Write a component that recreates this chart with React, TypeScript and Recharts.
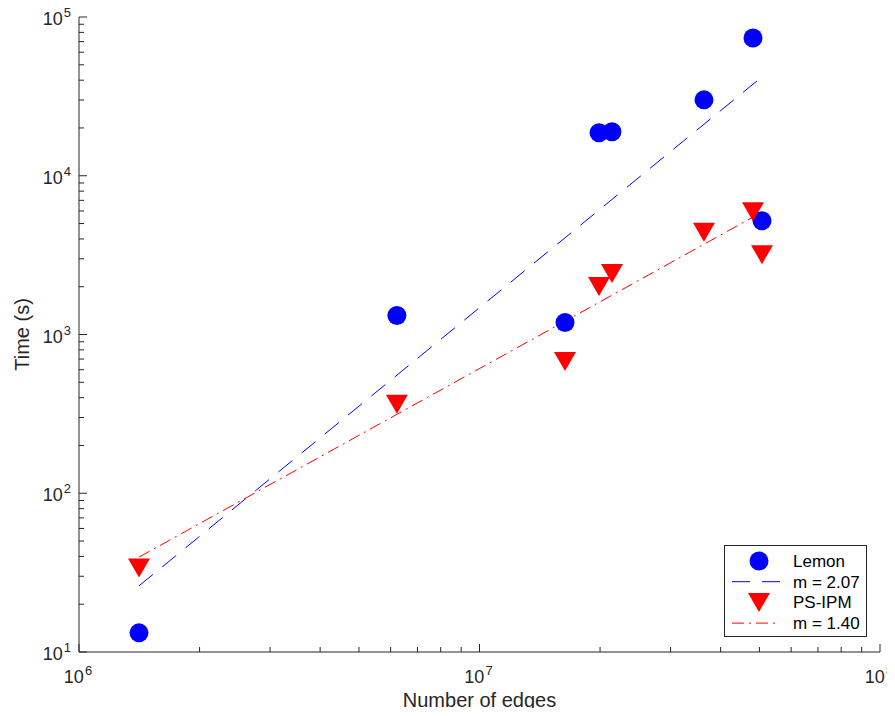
import { ComposedChart, Scatter, Line, XAxis, YAxis, Legend, Label } from 'recharts';

const edges = [1.412e6, 6.22e6, 1.635e7, 1.988e7, 2.142e7, 3.635e7, 4.818e7, 5.074e7];
const lemonTime = [13.2, 1316, 1190, 18650, 18920, 30060, 73800, 5212];
const psipmTime = [33.8, 363, 676, 2004, 2420, 4414, 5940, 3185];

const fitEdges = [1.412e6, 5.074e7];
const lemonFit = [26.1, 41970];
const psipmFit = [39.6, 5900];

const xTicks = [1e6, 2e6, 3e6, 4e6, 5e6, 6e6, 7e6, 8e6, 9e6, 1e7, 2e7, 3e7, 4e7, 5e7, 6e7, 7e7, 8e7, 9e7, 1e8];
const yTicks = [
    10, 20, 30, 40, 50, 60, 70, 80, 90,
    100, 200, 300, 400, 500, 600, 700, 800, 900,
    1000, 2000, 3000, 4000, 5000, 6000, 7000, 8000, 9000,
    10000, 20000, 30000, 40000, 50000, 60000, 70000, 80000, 90000, 100000,
];

const FONT = '"Liberation Sans", Arial, Helvetica, sans-serif';
const AXIS = '#262626';
const BLUE = '#0000ff';
const RED = '#ff0000';
const DASH = '18 12';
const DASHDOT = '12 5 2 5';

const lemonData = edges.map((x, i) => ({ x, y: lemonTime[i] }));
const psipmData = edges.map((x, i) => ({ x, y: psipmTime[i] }));
const lemonFitData = fitEdges.map((x, i) => ({ x, y: lemonFit[i] }));
const psipmFitData = fitEdges.map((x, i) => ({ x, y: psipmFit[i] }));

const isMajor = (v: number) => Math.abs(Math.log10(v) - Math.round(Math.log10(v))) < 1e-9;

function PowerLabel({ x, y, v, anchor }: { x: number; y: number; v: number; anchor: string }) {
    return (
        <text x={x} y={y} textAnchor={anchor} fill={AXIS} fontFamily={FONT} fontSize={18}>
            10
            <tspan dx={1} dy={-8} fontSize={13}>
                {Math.round(Math.log10(v))}
            </tspan>
        </text>
    );
}

function BottomTick(props: any) {
    const { x, y, payload } = props;
    const major = isMajor(payload.value);
    return (
        <g>
            <line x1={x} x2={x} y1={y} y2={y - (major ? 8 : 5)} stroke={AXIS} />
            {major && <PowerLabel x={x - 1} y={y + 31} v={payload.value} anchor="middle" />}
        </g>
    );
}

function TopTick(props: any) {
    const { x, y, payload } = props;
    const major = isMajor(payload.value);
    return <line x1={x} x2={x} y1={y} y2={y + (major ? 8 : 5)} stroke={AXIS} />;
}

function LeftTick(props: any) {
    const { x, y, payload } = props;
    const major = isMajor(payload.value);
    return (
        <g>
            <line x1={x} x2={x + (major ? 8 : 5)} y1={y} y2={y} stroke={AXIS} />
            {major && <PowerLabel x={x - 8} y={y + 8} v={payload.value} anchor="end" />}
        </g>
    );
}

function RightTick(props: any) {
    const { x, y, payload } = props;
    const major = isMajor(payload.value);
    return <line x1={x} x2={x - (major ? 8 : 5)} y1={y} y2={y} stroke={AXIS} />;
}

const Circle = (props: any) => <circle cx={props.cx} cy={props.cy} r={9.5} fill={BLUE} />;

const Triangle = (props: any) => {
    const { cx, cy } = props;
    return <polygon points={`${cx - 11},${cy - 9.5} ${cx + 11},${cy - 9.5} ${cx},${cy + 9.5}`} fill={RED} />;
};

const legendRows = [
    { name: 'Lemon', kind: 'circle' },
    { name: 'm = 2.07', kind: 'dash' },
    { name: 'PS-IPM', kind: 'triangle' },
    { name: 'm = 1.40', kind: 'dashdot' },
];

function LegendBox() {
    return (
        <svg width={143} height={92} style={{ display: 'block' }}>
            <rect x={0.5} y={0.5} width={142} height={91} fill="#fff" stroke={AXIS} />
            {legendRows.map((r, i) => {
                const cy = 16 + i * 20.7;
                let mark = null;
                if (r.kind === 'circle') mark = <circle cx={35} cy={cy} r={9.5} fill={BLUE} />;
                if (r.kind === 'triangle')
                    mark = <polygon points={`24,${cy - 9.5} 46,${cy - 9.5} 35,${cy + 9.5}`} fill={RED} />;
                if (r.kind === 'dash')
                    mark = <line x1={8} x2={56} y1={cy} y2={cy} stroke={BLUE} strokeDasharray={DASH} />;
                if (r.kind === 'dashdot')
                    mark = <line x1={8} x2={56} y1={cy} y2={cy} stroke={RED} strokeDasharray={DASHDOT} />;
                return (
                    <g key={r.name}>
                        {mark}
                        <text x={69} y={cy + 6} fontFamily={FONT} fontSize={17} fill="#000">
                            {r.name}
                        </text>
                    </g>
                );
            })}
        </svg>
    );
}

export default function App() {
    return (
        <div style={{ margin: -8, width: 895, height: 716, background: '#fff' }}>
            <ComposedChart width={895} height={716} margin={{ top: 17, right: 15, bottom: 0, left: 0 }}>
                <XAxis
                    dataKey="x"
                    type="number"
                    scale="log"
                    domain={[1e6, 1e8]}
                    ticks={xTicks}
                    interval={0}
                    allowDataOverflow
                    height={64}
                    tickSize={0}
                    tickMargin={0}
                    stroke={AXIS}
                    tick={<BottomTick />}
                >
                    <Label value="Number of edges" position="insideBottom" offset={9} fill={AXIS} fontFamily={FONT} fontSize={20} />
                </XAxis>
                <XAxis
                    xAxisId="top"
                    dataKey="x"
                    orientation="top"
                    type="number"
                    scale="log"
                    domain={[1e6, 1e8]}
                    ticks={xTicks}
                    interval={0}
                    allowDataOverflow
                    height={0}
                    tickSize={0}
                    tickMargin={0}
                    stroke={AXIS}
                    tick={<TopTick />}
                />
                <YAxis
                    dataKey="y"
                    type="number"
                    scale="log"
                    domain={[10, 1e5]}
                    ticks={yTicks}
                    interval={0}
                    allowDataOverflow
                    width={79}
                    tickSize={0}
                    tickMargin={0}
                    stroke={AXIS}
                    tick={<LeftTick />}
                >
                    <Label
                        value="Time (s)"
                        angle={-90}
                        position="insideLeft"
                        offset={22}
                        style={{ textAnchor: 'middle' }}
                        fill={AXIS}
                        fontFamily={FONT}
                        fontSize={20}
                    />
                </YAxis>
                <YAxis
                    yAxisId="right"
                    dataKey="y"
                    orientation="right"
                    type="number"
                    scale="log"
                    domain={[10, 1e5]}
                    ticks={yTicks}
                    interval={0}
                    allowDataOverflow
                    width={0}
                    tickSize={0}
                    tickMargin={0}
                    stroke={AXIS}
                    tick={<RightTick />}
                />
                <Legend
                    layout="vertical"
                    align="center"
                    verticalAlign="middle"
                    wrapperStyle={{ left: 724, top: 545, width: 143, height: 92 }}
                    content={() => <LegendBox />}
                />
                <Scatter name="Lemon" data={lemonData} shape={Circle} isAnimationActive={false} />
                <Line
                    name="m = 2.07"
                    data={lemonFitData}
                    dataKey="y"
                    type="linear"
                    stroke={BLUE}
                    strokeWidth={1}
                    strokeDasharray={DASH}
                    dot={false}
                    activeDot={false}
                    isAnimationActive={false}
                />
                <Scatter name="PS-IPM" data={psipmData} shape={Triangle} isAnimationActive={false} />
                <Line
                    name="m = 1.40"
                    data={psipmFitData}
                    dataKey="y"
                    type="linear"
                    stroke={RED}
                    strokeWidth={1}
                    strokeDasharray={DASHDOT}
                    dot={false}
                    activeDot={false}
                    isAnimationActive={false}
                />
            </ComposedChart>
        </div>
    );
}
